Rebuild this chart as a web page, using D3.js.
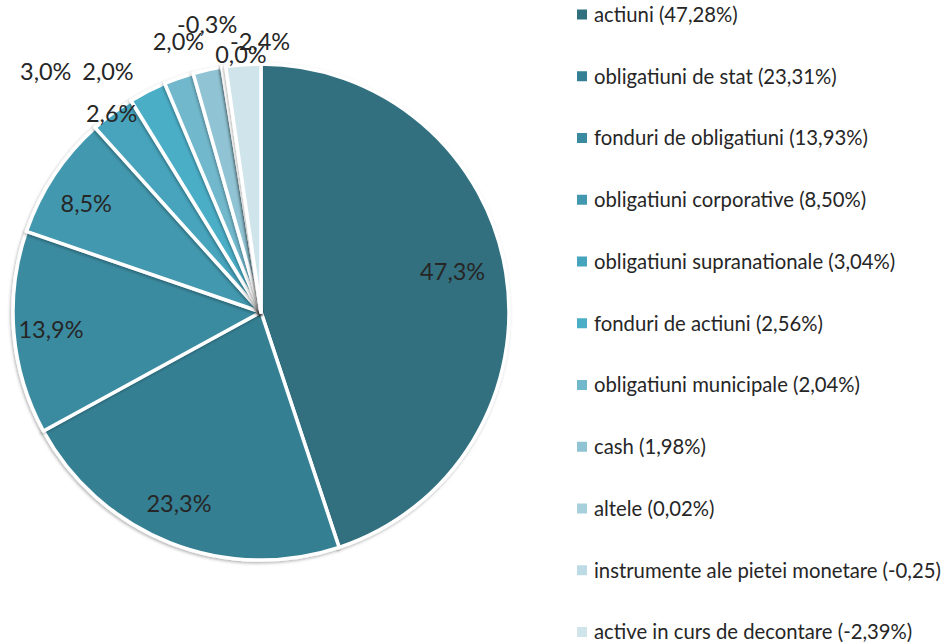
<!DOCTYPE html>
<html>
<head>
<meta charset="utf-8">
<script src="https://cdn.jsdelivr.net/npm/d3@7"></script>
<style>
  body { margin: 0; background: #fff; }
  svg { font-family: Lato, "Open Sans", sans-serif; }
</style>
</head>
<body>
<div id="chart"></div>
<script>
// portfolio structure pie, values in % (negative ones drawn by absolute size like excel does)

const categories = ['actiuni', 'obligatiuni de stat', 'fonduri de obligatiuni', 'obligatiuni corporative',
  'obligatiuni supranationale', 'fonduri de actiuni', 'obligatiuni municipale', 'cash', 'altele',
  'instrumente ale pietei monetare', 'active in curs de decontare'];
const values = [47.28, 23.31, 13.93, 8.50, 3.04, 2.56, 2.04, 1.98, 0.02, -0.25, -2.39];
const legendLabels = ['actiuni (47,28%)', 'obligatiuni de stat (23,31%)', 'fonduri de obligatiuni (13,93%)',
  'obligatiuni corporative (8,50%)', 'obligatiuni supranationale (3,04%)', 'fonduri de actiuni (2,56%)',
  'obligatiuni municipale (2,04%)', 'cash (1,98%)', 'altele (0,02%)',
  'instrumente ale pietei monetare (-0,25)', 'active in curs de decontare (-2,39%)'];
const colors = ['#31707f', '#347f93', '#3a8ba0', '#4298ae', '#46a4bc', '#4baec7',
  '#72b8cc', '#90c3d3', '#a8d0dc', '#bddbe4', '#cfe4eb'];

// label placement: radius as fraction of pie radius, angle shift in degrees from slice middle
const labelR = [0.79, 0.84, 0.85, 0.83, 1.30, 1.00, 1.15, 1.14, 1.04, 1.18, 1.09];
const labelShift = [-2.8, 1.7, 0, -1.6, -5.1, -9.8, -13.1, -4.5, 4.6, -2.0, 3.9];

const width = 951, height = 642;
const cx = 261, cy = 312, radius = 248;

const svg = d3.select('#chart').append('svg')
  .attr('width', width)
  .attr('height', height);

const defs = svg.append('defs');
const f = defs.append('filter').attr('id', 'shadow')
  .attr('x', '-10%').attr('y', '-10%').attr('width', '120%').attr('height', '120%');
f.append('feDropShadow')
  .attr('dx', -1).attr('dy', 1.5).attr('stdDeviation', 1.5)
  .attr('flood-color', '#000').attr('flood-opacity', 0.3);

const pie = d3.pie()
  .value(d => Math.abs(d))
  .sort(null);

const arcs = pie(values);

const arc = d3.arc()
  .innerRadius(0)
  .outerRadius(radius);

const g = svg.append('g')
  .attr('transform', `translate(${cx},${cy})`);

g.selectAll('path')
  .data(arcs)
  .join('path')
  .attr('d', arc)
  .attr('fill', (d, i) => colors[i])
  .attr('stroke', '#fff')
  .attr('stroke-width', 3.5)
  .attr('stroke-linejoin', 'round')
  .attr('filter', 'url(#shadow)');

const fmt = v => d3.format('.1f')(v).replace('.', ',').replace('−', '-') + '%';

g.selectAll('text.lbl')
  .data(arcs)
  .join('text')
  .attr('class', 'lbl')
  .attr('transform', (d, i) => {
    const a = (d.startAngle + d.endAngle) / 2 + labelShift[i] * Math.PI / 180;
    const r = radius * labelR[i];
    return `translate(${r * Math.sin(a)},${-r * Math.cos(a)})`;
  })
  .attr('text-anchor', 'middle')
  .attr('dy', '0.36em')
  .attr('font-size', 23.5)
  .attr('fill', '#262626')
  .text((d, i) => fmt(values[i]));

// legend
const legendY = d3.scalePoint()
  .domain(categories)
  .range([14.5, 632]);

const legend = svg.append('g')
  .attr('transform', 'translate(577,0)');

const item = legend.selectAll('g')
  .data(categories)
  .join('g')
  .attr('transform', d => `translate(0,${legendY(d)})`);

item.append('rect')
  .attr('x', 0)
  .attr('y', -5)
  .attr('width', 10)
  .attr('height', 10)
  .attr('fill', (d, i) => colors[i]);

item.append('text')
  .attr('x', 17)
  .attr('dy', '0.36em')
  .attr('font-size', 20.3)
  .attr('fill', '#262626')
  .text((d, i) => legendLabels[i]);
</script>
</body>
</html>
